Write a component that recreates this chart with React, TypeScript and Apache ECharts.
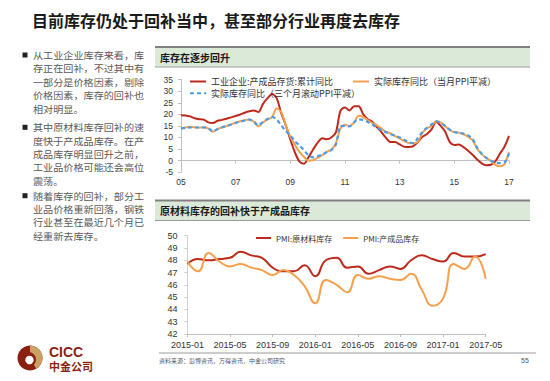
import React, { useEffect, useRef } from "react";
import * as echarts from "echarts";

// ---------- Chart 1: inventory yoy (%), months since 2005-01 ----------
const monthIndex = [
  0, 2, 4, 6, 8, 10, 12, 14, 16, 18, 20, 22, 24, 26, 28, 30, 32, 34, 36, 38, 40, 42, 44, 46, 48,
  50, 52, 54, 56, 58, 60, 62, 64, 66, 68, 70, 72, 74, 76, 78, 80, 82, 84, 86, 88, 90, 92, 94, 96,
  98, 100, 102, 104, 106, 108, 110, 112, 114, 116, 118, 120, 122, 124, 126, 128, 130, 132, 134,
  136, 138, 140, 142, 144,
];
const nominalInventory = [
  19.6, 19.5, 19.1, 18.3, 17.9, 17.7, 16.5, 16.2, 17.2, 17.6, 18.1, 18.7, 19.3, 19.9, 20.7, 21.3,
  21.6, 21.0, 24.5, 27.0, 28.8, 27.0, 20.5, 15.2, 9.1, 3.6, -0.4, -1.3, 1.5, 4.8, 7.8, 9.7, 9.2,
  10.0, 12.2, 21.5, 23.0, 21.7, 23.5, 23.5, 20.0, 17.9, 16.8, 14.5, 12.3, 9.8, 8.0, 8.0, 7.0, 6.0,
  5.9, 6.3, 8.0, 10.3, 11.5, 13.5, 16.8, 15.0, 12.5, 8.0, 6.8, 7.0, 5.8, 4.3, 2.5, 0.5, -1.2, -2.0,
  -1.8, -0.3, 3.0, 6.0, 10.7,
];
const realInventoryMonthlyPPI = [
  13.9, 14.3, 14.6, 14.4, 14.3, 14.4, 13.8, 12.5, 13.6, 14.3, 14.9, 15.6, 16.4, 17.0, 17.5, 17.8,
  16.8, 14.8, 16.5, 17.8, 18.8, 22.5, 21.0, 15.2, 10.3, 6.8, 3.8, 1.6, 0.0, 0.2, 1.3, 2.4, 3.8,
  4.7, 7.5, 14.0, 15.5, 15.0, 16.5, 19.4, 18.8, 17.5, 16.2, 15.2, 13.8, 12.4, 11.8, 10.6, 9.6, 8.5,
  7.6, 7.5, 8.1, 12.0, 14.0, 15.0, 17.0, 16.5, 14.8, 13.2, 12.3, 12.1, 11.3, 10.3, 8.8, 5.2, 2.8,
  1.2, 0.0, -1.8, -2.4, -1.5, 3.6,
];
const realInventoryRollingPPI = [
  13.9, 14.1, 14.3, 14.3, 14.3, 14.3, 14.0, 12.7, 13.6, 14.4, 15.0, 15.6, 16.3, 16.9, 17.3, 17.7,
  16.8, 15.2, 16.8, 18.0, 18.9, 17.8, 15.2, 12.8, 10.8, 8.4, 6.5, 4.5, 2.3, 1.4, 1.9, 2.6, 3.7,
  4.6, 7.0, 14.8, 15.0, 14.8, 16.6, 17.8, 17.6, 16.7, 15.6, 14.3, 13.2, 12.3, 11.4, 10.8, 10.0, 9.0,
  8.0, 7.6, 9.8, 12.4, 14.2, 15.6, 17.0, 16.2, 15.0, 13.4, 12.4, 12.0, 11.7, 10.9, 9.4, 5.6, 3.0,
  1.2, 0.0, -0.8, -1.1, -0.8, 3.1,
];
const chart1Names = [
  "工业企业:产成品存货:累计同比",
  "实际库存同比（当月PPI平减）",
  "实际库存同比（三个月滚动PPI平减）",
];

// ---------- Chart 2: PMI inventories ----------
const pmiMonths = [
  "2015-01", "2015-02", "2015-03", "2015-04", "2015-05", "2015-06", "2015-07", "2015-08",
  "2015-09", "2015-10", "2015-11", "2015-12", "2016-01", "2016-02", "2016-03", "2016-04",
  "2016-05", "2016-06", "2016-07", "2016-08", "2016-09", "2016-10", "2016-11", "2016-12",
  "2017-01", "2017-02", "2017-03", "2017-04", "2017-05",
];
const pmiRawMaterial = [
  47.7, 48.1, 48.0, 48.1, 48.2, 48.7, 48.4, 48.2, 47.4, 47.1, 47.1, 47.6, 46.7, 48.0, 48.2, 47.4,
  47.5, 46.9, 47.2, 47.5, 47.3, 48.0, 48.4, 48.1, 47.9, 48.6, 48.3, 48.3, 48.5,
];
const pmiFinished = [
  47.9, 47.1, 48.6, 47.9, 47.5, 47.7, 47.4, 47.2, 46.8, 47.2, 46.8, 45.9, 44.5, 46.4, 46.0, 45.4,
  46.8, 46.5, 46.7, 46.5, 46.4, 46.9, 45.6, 44.3, 44.9, 47.7, 47.3, 48.3, 46.5,
];
const chart2Names = ["PMI:原材料库存", "PMI:产成品库存"];

// ---------- Slide texts ----------
const TITLE = "目前库存仍处于回补当中，甚至部分行业再度去库存";
const bullets = [
  ["从工业企业库存来看，库", "存正在回补，不过其中有", "一部分是价格因素，剔除", "价格因素，库存的回补也", "相对明显。"],
  ["其中原材料库存回补的速", "度快于产成品库存。在产", "成品库存明显回升之前，", "工业品价格可能还会高位", "震荡。"],
  ["随着库存的回补，部分工", "业品价格重新回落，钢铁", "行业甚至在最近几个月已", "经重新去库存。"],
];
const bulletTops = [55, 127.3, 195.7];
const header1 = "库存在逐步回升";
const header2 = "原材料库存的回补快于产成品库存";
const SOURCE = "资料来源：彭博资讯，万得资讯，中金公司研究";
const PAGE = "55";

const CJK = '"Noto Sans CJK SC", "Noto Sans", sans-serif';
const LAT = '"Liberation Sans", Arial, sans-serif';

const RED = "#bd2a1c";
const ORANGE = "#f5a04d";
const BLUE = "#4a9de8";

export default function App() {
  const ref = useRef<HTMLDivElement>(null);

  useEffect(() => {
    const chart = echarts.init(ref.current!, null, { renderer: "svg" });
    const g: any[] = [];

    g.push({
      type: "text",
      x: 32,
      y: 20,
      style: { text: TITLE, fontSize: 16, lineHeight: 18, fontWeight: "bold", fontFamily: CJK, fill: "#1a1a1a", verticalAlign: "middle" },
    });

    bullets.forEach((lines, bi) => {
      const y0 = bulletTops[bi];
      g.push({ type: "rect", shape: { x: 22.5, y: y0 - 2.5, width: 5, height: 5 }, style: { fill: "#222" } });
      lines.forEach((ln, li) => {
        g.push({
          type: "text",
          x: 33,
          y: y0 + li * 13.45,
          scaleX: 1.1,
          style: { text: ln, fontSize: 9.2, lineHeight: 11, fontFamily: CJK, fill: "#595959", verticalAlign: "middle" },
        });
      });
    });

    const header = (y: number, text: string) => {
      g.push({ type: "rect", shape: { x: 155, y, width: 375, height: 20 }, style: { fill: "#dbead8" } });
      g.push({ type: "line", shape: { x1: 155, y1: y, x2: 530, y2: y }, style: { stroke: "#808080", lineWidth: 2 } });
      g.push({ type: "line", shape: { x1: 155, y1: y + 20, x2: 530, y2: y + 20 }, style: { stroke: "#9a9a9a", lineWidth: 1.2 } });
      g.push({
        type: "text",
        x: 160,
        y: y + 10,
        style: { text, fontSize: 10, lineHeight: 12, fontWeight: "bold", fontFamily: CJK, fill: "#1a1a1a", verticalAlign: "middle" },
      });
    };
    header(47, header1);
    header(200.5, header2);

    // footer
    g.push({ type: "line", shape: { x1: 159, y1: 353, x2: 536, y2: 353 }, style: { stroke: "#9a9a9a", lineWidth: 1 } });
    g.push({
      type: "text",
      x: 159,
      y: 360,
      style: { text: SOURCE, fontSize: 6, lineHeight: 7, fontFamily: CJK, fill: "#555", verticalAlign: "middle" },
    });
    g.push({
      type: "text",
      x: 525,
      y: 360,
      style: { text: PAGE, fontSize: 7, lineHeight: 8, fontFamily: LAT, fill: "#555", verticalAlign: "middle", align: "center" },
    });

    // logo
    g.push({ type: "circle", shape: { cx: 30, cy: 358, r: 12.5 }, style: { fill: "#8a1f12" } });
    g.push({
      type: "sector",
      shape: { cx: 30, cy: 358, r: 12.5, r0: 0, startAngle: -Math.PI / 2, endAngle: Math.PI / 3, clockwise: true },
      style: { fill: "#c9a263" },
    });
    g.push({ type: "circle", shape: { cx: 28.5, cy: 359.5, r: 7.5 }, style: { fill: "#8a1f12" } });
    g.push({ type: "circle", shape: { cx: 29.5, cy: 360, r: 4.2 }, style: { fill: "#ffffff" } });
    g.push({
      type: "text",
      x: 49,
      y: 351.5,
      style: { text: "CICC", fontSize: 14, lineHeight: 12, fontWeight: "bold", fontFamily: LAT, fill: "#8a1f12", verticalAlign: "middle" },
    });
    g.push({
      type: "text",
      x: 49,
      y: 366,
      style: { text: "中金公司", fontSize: 11, lineHeight: 11, fontWeight: "bold", fontFamily: CJK, fill: "#8a1f12", verticalAlign: "middle" },
    });

    const axisLabel = { color: "#333", fontFamily: LAT };
    const legendText = { fontFamily: CJK, color: "#333" };
    const noMarker = { color: "rgba(0,0,0,0)", borderWidth: 0 };

    chart.setOption({
      animation: false,
      backgroundColor: "#ffffff",
      graphic: g,
      grid: [
        { left: 181, top: 79.6, width: 328, height: 92.6 },
        { left: 187.4, top: 235.7, width: 298.3, height: 98.3 },
      ],
      legend: [
        {
          data: [chart1Names[0], chart1Names[1]],
          left: 189,
          top: 76.5,
          padding: 0,
          itemGap: 19,
          itemWidth: 16,
          itemHeight: 2,
          itemStyle: noMarker,
          selectedMode: false,
          textStyle: { ...legendText, fontSize: 9, lineHeight: 10 },
        },
        {
          data: [chart1Names[2]],
          left: 189,
          top: 88.3,
          padding: 0,
          itemWidth: 16,
          itemHeight: 2,
          itemStyle: noMarker,
          selectedMode: false,
          textStyle: { ...legendText, fontSize: 9, lineHeight: 10 },
        },
        {
          data: chart2Names,
          left: 255,
          top: 233.5,
          padding: 0,
          itemGap: 10,
          itemWidth: 15,
          itemHeight: 2,
          itemStyle: noMarker,
          selectedMode: false,
          textStyle: { ...legendText, fontSize: 8, lineHeight: 9 },
        },
      ],
      xAxis: [
        {
          gridIndex: 0,
          type: "value",
          min: 0,
          max: 144,
          interval: 24,
          position: "bottom",
          axisLine: { show: false, onZero: false },
          axisTick: { show: false },
          splitLine: { show: false },
          axisLabel: {
            ...axisLabel,
            fontSize: 8.5,
            margin: 5,
            formatter: (v: number) => String(5 + v / 12).padStart(2, "0"),
          },
        },
        {
          gridIndex: 0,
          type: "value",
          min: 0,
          max: 144,
          interval: 24,
          position: "bottom",
          axisLine: { show: true, onZero: true, lineStyle: { color: "#bfbfbf", width: 1 } },
          axisTick: { show: true, length: 3, lineStyle: { color: "#bfbfbf" } },
          axisLabel: { show: false },
          splitLine: { show: false },
        },
        {
          gridIndex: 1,
          type: "category",
          data: pmiMonths,
          boundaryGap: false,
          axisLine: { show: true, lineStyle: { color: "#bfbfbf" } },
          axisTick: { show: true, interval: 3, length: 3, lineStyle: { color: "#bfbfbf" } },
          axisLabel: { ...axisLabel, interval: 3, fontSize: 9, margin: 6 },
          splitLine: { show: false },
        },
      ],
      yAxis: [
        {
          gridIndex: 0,
          type: "value",
          min: -5,
          max: 35,
          interval: 5,
          axisLine: { show: true, onZero: false, lineStyle: { color: "#bfbfbf" } },
          axisTick: { show: true, length: 3, lineStyle: { color: "#bfbfbf" } },
          axisLabel: { ...axisLabel, fontSize: 8.5, margin: 8 },
          splitLine: { show: false },
        },
        {
          gridIndex: 1,
          type: "value",
          min: 42,
          max: 50,
          interval: 1,
          axisLine: { show: true, onZero: false, lineStyle: { color: "#d0d0d0" } },
          axisTick: { show: true, length: 3, lineStyle: { color: "#d0d0d0" } },
          axisLabel: { ...axisLabel, fontSize: 9, margin: 10 },
          splitLine: { show: false },
        },
      ],
      series: [
        {
          name: chart1Names[0],
          type: "line",
          xAxisIndex: 0,
          yAxisIndex: 0,
          data: monthIndex.map((m, i) => [m, nominalInventory[i]]),
          symbol: "none",
          smooth: 0.3,
          lineStyle: { color: RED, width: 2 },
          itemStyle: { color: RED },
        },
        {
          name: chart1Names[1],
          type: "line",
          xAxisIndex: 0,
          yAxisIndex: 0,
          data: monthIndex.map((m, i) => [m, realInventoryMonthlyPPI[i]]),
          symbol: "none",
          smooth: 0.3,
          lineStyle: { color: ORANGE, width: 2 },
          itemStyle: { color: ORANGE },
        },
        {
          name: chart1Names[2],
          type: "line",
          xAxisIndex: 0,
          yAxisIndex: 0,
          data: monthIndex.map((m, i) => [m, realInventoryRollingPPI[i]]),
          symbol: "none",
          smooth: 0.3,
          lineStyle: { color: BLUE, width: 2.2, type: [4, 3] },
          itemStyle: { color: BLUE },
        },
        {
          name: chart2Names[0],
          type: "line",
          xAxisIndex: 2,
          yAxisIndex: 1,
          data: pmiRawMaterial,
          symbol: "none",
          smooth: 0.5,
          lineStyle: { color: RED, width: 2 },
          itemStyle: { color: RED },
        },
        {
          name: chart2Names[1],
          type: "line",
          xAxisIndex: 2,
          yAxisIndex: 1,
          data: pmiFinished,
          symbol: "none",
          smooth: 0.5,
          lineStyle: { color: ORANGE, width: 2 },
          itemStyle: { color: ORANGE },
        },
      ],
    });

    return () => chart.dispose();
  }, []);

  return (
    <div
      ref={ref}
      style={{ position: "absolute", left: 0, top: 0, width: 550, height: 381, background: "#fff" }}
    />
  );
}
